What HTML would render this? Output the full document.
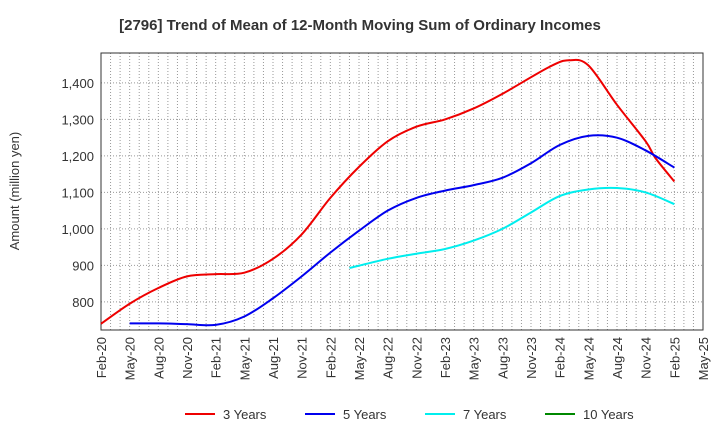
<!DOCTYPE html>
<html><head><meta charset="utf-8"><style>body{margin:0;background:#fff}svg{font-family:"Liberation Sans",sans-serif}</style></head>
<body>
<svg id="c" width="720" height="440"></svg>
<script>
const tickLabels=["Feb-20","May-20","Aug-20","Nov-20","Feb-21","May-21","Aug-21","Nov-21","Feb-22","May-22","Aug-22","Nov-22","Feb-23","May-23","Aug-23","Nov-23","Feb-24","May-24","Aug-24","Nov-24","Feb-25","May-25"];
const yTicks=[800,900,1000,1100,1200,1300,1400];
const m3=[0,3,6,9,12,15,18,21,24,27,30,33,36,39,42,47,49,51,54,57,58,60];
const v3=[740,795,838,870,876,880,918,985,1085,1170,1240,1280,1300,1330,1370,1445,1462,1448,1340,1240,1195,1130];
const m5=[3,6,9,12,15,18,21,24,27,30,33,36,39,42,45,48,51,54,57,60];
const v5=[741,741,739,737,760,810,870,935,995,1050,1085,1105,1120,1140,1180,1230,1255,1250,1215,1168];
const m7=[26,30,33,36,39,42,45,48,51,54,57,60];
const v7=[893,918,932,945,968,1000,1045,1090,1108,1112,1100,1068];
const m10=[];const v10=[];
const NS="http://www.w3.org/2000/svg",svg=document.getElementById('c');
const L=101,R=703,T=53,B=330,yMin=723,yMax=1482;
const X=m=>L+m*(R-L)/63, Y=v=>B-(v-yMin)*(B-T)/(yMax-yMin);
function el(t,a,p){const e=document.createElementNS(NS,t);for(const k in a)e.setAttribute(k,a[k]);(p||svg).appendChild(e);return e;}
for(let m=1;m<63;m++){const g=el('line',{x1:X(m),x2:X(m),y1:T,y2:B,stroke:'#999','stroke-dasharray':'1,2','stroke-width':1});

}
yTicks.forEach(v=>{const g=el('line',{x1:L,x2:R,y1:Y(v),y2:Y(v),stroke:'#999','stroke-dasharray':'1,2'});


const t=el('text',{x:L-7,y:Y(v)+5,'text-anchor':'end','font-size':13,fill:'#333'});t.textContent=v.toLocaleString('en-US');

});
tickLabels.forEach((s,i)=>{const x=X(i*3);const t=el('text',{transform:`translate(${x+5},337) rotate(-90)`,'text-anchor':'end','font-size':13,fill:'#333'});t.textContent=s;

});
const fr=el('rect',{x:L,y:T,width:R-L,height:B-T,fill:'none',stroke:'#333'});


function path(ms,vs){const p=ms.map((m,i)=>[X(m),Y(vs[i])]);if(!p.length)return '';let d=`M${p[0][0]},${p[0][1]}`;
for(let i=0;i<p.length-1;i++){const p0=p[i-1]||p[i],p1=p[i],p2=p[i+1],p3=p[i+2]||p2;
d+=`C${p1[0]+(p2[0]-p0[0])/6},${p1[1]+(p2[1]-p0[1])/6} ${p2[0]-(p3[0]-p1[0])/6},${p2[1]-(p3[1]-p1[1])/6} ${p2[0]},${p2[1]}`;}return d;}
[[m3,v3,'#ee0000','series-3-years'],[m5,v5,'#0000ee','series-5-years'],[m7,v7,'#00eeee','series-7-years'],[m10,v10,'#008800','series-10-years']].forEach(s=>{
if(!s[0].length)return;const p=el('path',{d:path(s[0],s[1]),fill:'none',stroke:s[2],'stroke-width':2});

});
const t=el('text',{x:360,y:30,'text-anchor':'middle','font-size':15,'font-weight':'bold',fill:'#333'});t.textContent='[2796]  Trend of Mean of 12-Month Moving Sum of Ordinary Incomes';


const yt=el('text',{transform:'translate(19,191) rotate(-90)','text-anchor':'middle','font-size':13,fill:'#333'});yt.textContent='Amount (million yen)';


[['3 Years','#ee0000',185],['5 Years','#0000ee',305],['7 Years','#00eeee',425],['10 Years','#008800',545]].forEach(l=>{
const g=el('g',{});


el('line',{x1:l[2],x2:l[2]+30,y1:414,y2:414,stroke:l[1],'stroke-width':2},g);
const tx=el('text',{x:l[2]+38,y:419,'font-size':13,fill:'#333'},g);tx.textContent=l[0];});
</script>
</body></html>
